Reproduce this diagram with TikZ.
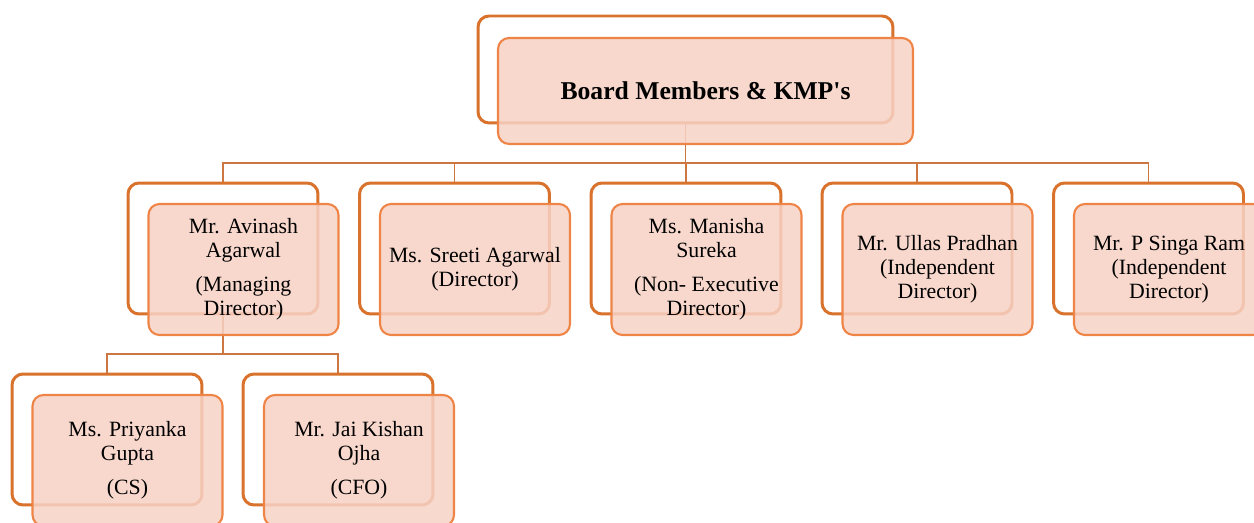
\documentclass[tikz,border=0pt]{standalone}
\usepackage{fontspec}
\setmainfont{Liberation Serif}

\definecolor{backline}{RGB}{216,114,44}
\definecolor{frontline}{RGB}{238,132,70}
\definecolor{frontfill}{RGB}{247,210,197}
\definecolor{linkline}{RGB}{204,118,66}

\tikzset{
  backbox/.style={draw=backline,line width=1.7pt,fill=white,rounded corners=0.22cm,
    minimum width=3.8cm,minimum height=2.62cm,inner sep=0pt},
  frontbox/.style={draw=frontline,line width=1.2pt,fill=frontfill,fill opacity=0.85,
    text opacity=1,rounded corners=0.22cm,minimum width=3.8cm,minimum height=2.62cm,
    inner sep=0pt,align=center,font=\fontsize{12.4pt}{13.7pt}\selectfont},
  link/.style={draw=linkline,line width=0.9pt}
}

\begin{document}
\begin{tikzpicture}[x=0.02cm,y=-0.02cm]
\useasboundingbox (0,0) rectangle (1254,523);

% Back boxes
\node[backbox,minimum width=8.3cm,minimum height=2.14cm] (bmb) at (685.5,69.5) {};
\node[backbox] (aab) at (223,248.5) {};
\node[backbox] (sab) at (454.5,248.5) {};
\node[backbox] (msb) at (686,248.5) {};
\node[backbox] (upb) at (917,248.5) {};
\node[backbox] (psb) at (1148.5,248.5) {};
\node[backbox] (pgb) at (107,439.5) {};
\node[backbox] (jkb) at (338,439.5) {};

% Connectors
\coordinate (bus) at (685.5,163);
\coordinate (subbus) at (223,354);
\draw[link] (bmb.south) -- (bus);
\draw[link] (bus) -| (aab.north);
\draw[link] (bus) -| (sab.north);
\draw[link] (bus) -| (msb.north);
\draw[link] (bus) -| (upb.north);
\draw[link] (bus) -| (psb.north);
\draw[link] (aab.south) -- (subbus);
\draw[link] (subbus) -| (pgb.north);
\draw[link] (subbus) -| (jkb.north);

% Front boxes
\node[frontbox,minimum width=8.3cm,minimum height=2.12cm,
  font=\fontsize{14.6pt}{16pt}\selectfont\bfseries] (bm) at (705.5,91) {Board Members \& KMP\textquotesingle s};
\node[frontbox] (aa) at (243.5,269.5) {Mr. Avinash\\Agarwal\\[5.5pt](Managing\\Director)};
\node[frontbox] (sa) at (475,269.5) {Ms. Sreeti Agarwal\\(Director)};
\node[frontbox] (ms) at (706.5,269.5) {Ms. Manisha\\Sureka\\[5.5pt](Non- Executive\\Director)};
\node[frontbox] (up) at (937.5,269.5) {Mr. Ullas Pradhan\\(Independent\\Director)};
\node[frontbox] (ps) at (1169,269.5) {Mr. P Singa Ram\\(Independent\\Director)};
\node[frontbox] (pg) at (127.5,460.5) {Ms. Priyanka\\Gupta\\[5.5pt](CS)};
\node[frontbox] (jk) at (359,460.5) {Mr. Jai Kishan\\Ojha\\[5.5pt](CFO)};

\end{tikzpicture}
\end{document}
